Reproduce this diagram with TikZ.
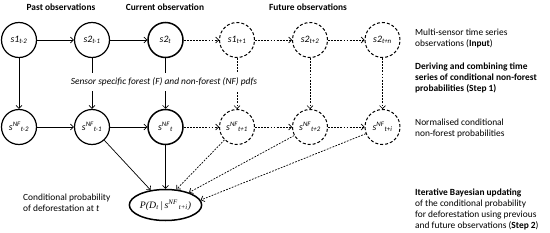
\documentclass[tikz,border=0pt]{standalone}
\usepackage{fontspec}
\setmainfont{Carlito}
\newfontfamily\tnr{Liberation Serif}
\usetikzlibrary{arrows.meta,shapes.geometric}
\begin{document}
\begin{tikzpicture}[x=1pt,y=-1pt,
  font=\fontsize{9.4}{11}\selectfont,
  obs/.style={circle,draw,line width=1.2pt,minimum size=35pt,inner sep=0pt,
    font=\fontsize{9.8}{10}\selectfont\itshape},
  cur/.style={obs,line width=1.5pt},
  fut/.style={obs,dash pattern=on 3pt off 2pt,line width=1pt},
  arr/.style={-{Straight Barb[length=3pt,width=6pt]},line width=0.7pt},
  darr/.style={arr,dash pattern=on 1.8pt off 1.3pt},
  lab/.style={align=left,anchor=west,inner sep=0pt},
  head/.style={font=\fontsize{9.4}{11}\selectfont\bfseries,inner sep=0pt}
]
\useasboundingbox (0,0) rectangle (550,233);

% headings
\node[head] (h1) at (61,7) {Past observations};
\node[head] (h2) at (165,7) {Current observation};
\node[head] (h3) at (308,7) {Future observations};

% top row
\node[obs] (a1) at (19,40) {s1\textsubscript{t-2}};
\node[obs] (a2) at (92,40) {s2\textsubscript{t-1}};
\node[cur] (a3) at (165.5,40) {s2\textsubscript{t}};
\node[fut] (a4) at (237,40) {s1\textsubscript{t+1}};
\node[fut] (a5) at (310,40) {s2\textsubscript{t+2}};
\node[fut] (a6) at (382.5,40) {s2\textsubscript{t+n}};

% middle row
\node[obs] (b1) at (19,127) {s\textsuperscript{NF}\textsubscript{t-2}};
\node[obs] (b2) at (92,127) {s\textsuperscript{NF}\textsubscript{t-1}};
\node[cur] (b3) at (165.5,127) {s\textsuperscript{NF}\textsubscript{t}};
\node[fut] (b4) at (237,127) {s\textsuperscript{NF}\textsubscript{t+1}};
\node[fut] (b5) at (310,127) {s\textsuperscript{NF}\textsubscript{t+2}};
\node[fut] (b6) at (382.5,127) {s\textsuperscript{NF}\textsubscript{t+i}};

% result
\node[ellipse,draw,line width=1.5pt,minimum width=64pt,minimum height=31pt,inner sep=0pt,
  font=\tnr\fontsize{9.8}{10}\selectfont\itshape] (p) at (165.5,205)
  {P(D\textsubscript{t}\,|\,s\textsuperscript{NF}\textsubscript{\,t+i})};

% horizontal connectors
\draw[arr] (a1) -- (a2);
\draw[arr] (a2) -- (a3);
\draw[darr] (a3) -- (a4);
\draw[darr] (a4) -- (a5);
\draw[darr] (a5) -- (a6);
\draw[arr] (b1) -- (b2);
\draw[arr] (b2) -- (b3);
\draw[darr] (b3) -- (b4);
\draw[darr] (b4) -- (b5);
\draw[darr] (b5) -- (b6);

% vertical connectors
\draw[arr] (a1) -- (b1);
\draw[arr] (a2) -- (b2);
\draw[arr] (a3) -- (b3);
\draw[darr] (a4) -- (b4);
\draw[darr] (a5) -- (b5);
\draw[darr] (a6) -- (b6);

% to result
\draw[arr] (b2) -- (p.135);
\draw[arr] (b3) -- (p.north);
\draw[darr] (b4) -- (p.55);
\draw[darr] (b5) -- (p.28);
\draw[darr] (b6) -- (p.8);

% pdf label over verticals
\node[fill=white,inner xsep=2pt,inner ysep=5pt,font=\fontsize{9.4}{11}\selectfont\itshape] (pdf) at (164,82)
  {Sensor specific forest (F) and non-forest (NF) pdfs};

% right labels
\node[lab] (r1) at (415,38) {Multi-sensor time series\\observations (\textbf{Input})};
\node[lab,font=\fontsize{9.4}{11}\selectfont\bfseries] (r2) at (415,78)
  {Deriving and combining time\\series of conditional non-forest\\probabilities (Step 1)};
\node[lab] (r3) at (415,128) {Normalised conditional\\non-forest probabilities};
\node[lab] (r4) at (415,209) {\textbf{Iterative Bayesian updating}\\of the conditional probability\\for deforestation using previous\\and future observations (\textbf{Step 2})};
\node[lab] (l1) at (23,203) {Conditional probability\\of deforestation at \textit{t}};
\end{tikzpicture}
\end{document}
